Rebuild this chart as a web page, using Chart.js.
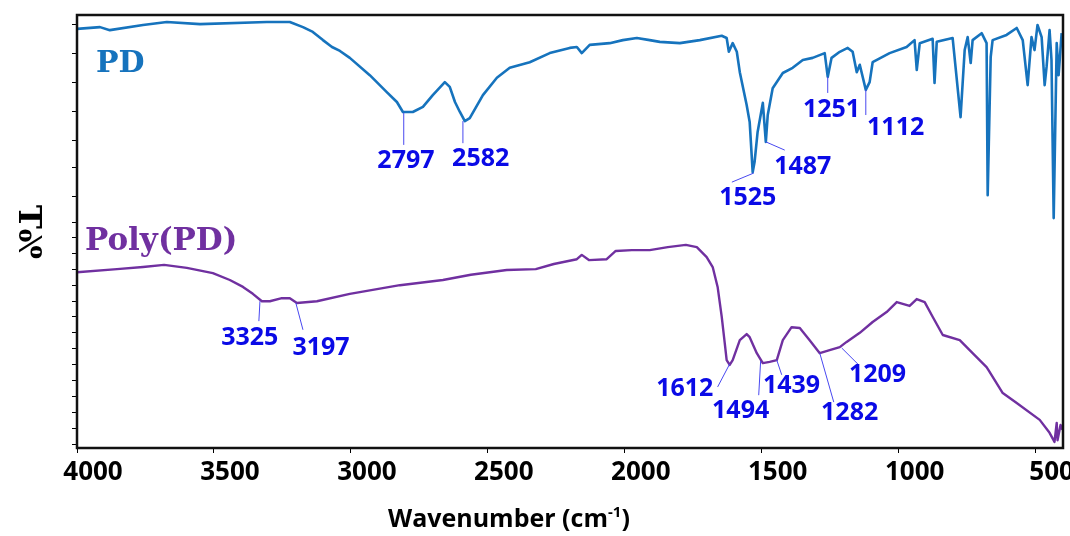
<!DOCTYPE html>
<html>
<head>
<meta charset="utf-8">
<script src="https://cdn.jsdelivr.net/npm/chart.js@4.4.1/dist/chart.umd.min.js"></script>
<style>
  body { margin: 0; background: #fff; }
  #wrap { width: 1070px; height: 536px; position: relative; }
</style>
</head>
<body>
<div id="wrap"><canvas id="ftir" width="1070" height="536"></canvas></div>
<script>
// FTIR spectra, wavenumber (cm-1) vs %T (arbitrary offset units)
const pdWavenumbers = [4000, 3916, 3880, 3759, 3672, 3551, 3307, 3223, 3175, 3139, 3102, 3069, 3040, 3004,
  2931, 2869, 2832, 2810, 2774, 2737, 2701, 2657, 2639, 2620, 2602, 2584, 2566, 2518, 2467, 2420, 2347,
  2274, 2201, 2175, 2157, 2128, 2055, 2007, 1956, 1909, 1872, 1799, 1726, 1646, 1628, 1620, 1606, 1591,
  1580, 1555, 1544, 1533, 1526, 1515, 1496, 1485, 1478, 1460, 1423, 1387, 1350, 1314, 1270, 1259, 1245,
  1215, 1186, 1168, 1153, 1142, 1120, 1106, 1095, 1033, 971, 942, 934, 923, 876, 869, 861, 803, 774, 759,
  748, 737, 730, 697, 679, 675, 664, 657, 606, 569, 547, 529, 515, 504, 493, 478, 467, 460, 449, 442, 434,
  423, 416, 405];
const pdTransmittance = [96.8, 97.2, 96.5, 97.7, 98.4, 97.9, 98.4, 98.4, 97.2, 96.1, 94.2, 92.6, 91.7, 90.1,
  86.1, 82.2, 79.9, 77.6, 77.6, 78.8, 81.5, 84.5, 83.4, 79.9, 77.6, 75.5, 76.2, 81.5, 85.5, 87.8, 89.1,
  91.2, 92.4, 92.6, 91.2, 93.1, 93.5, 94.2, 94.7, 94.2, 93.8, 93.5, 94.2, 95.2, 94.7, 91.5, 93.5, 91.5,
  86.8, 79.2, 75.3, 63.7, 66.1, 73.0, 79.7, 70.7, 76.9, 83.1, 86.6, 87.8, 89.6, 90.1, 91.2, 85.7, 90.1,
  91.5, 92.4, 91.5, 86.8, 88.5, 82.7, 84.5, 89.1, 91.2, 92.6, 94.2, 87.3, 93.5, 94.5, 84.3, 93.8, 94.7,
  76.4, 91.9, 94.9, 88.9, 94.2, 95.8, 93.5, 58.4, 90.3, 94.2, 95.4, 97.0, 94.2, 83.8, 94.9, 91.9, 97.7,
  94.9, 83.8, 88.0, 96.5, 89.6, 53.1, 93.5, 86.1, 95.8];

const polyWavenumbers = [4000, 3854, 3759, 3682, 3599, 3504, 3442, 3394, 3358, 3325, 3296, 3252, 3223, 3197,
  3124, 3004, 2821, 2664, 2562, 2431, 2325, 2259, 2175, 2157, 2131, 2066, 2033, 1974, 1909, 1843, 1777,
  1737, 1701, 1679, 1661, 1646, 1635, 1628, 1617, 1606, 1580, 1555, 1544, 1518, 1496, 1471, 1445, 1423,
  1391, 1361, 1325, 1288, 1252, 1215, 1190, 1142, 1095, 1044, 1007, 960, 934, 905, 876, 839, 777, 730,
  679, 672, 620, 569, 485, 449, 431, 423, 420, 409, 402];
const polyTransmittance = [40.6, 41.3, 41.8, 42.3, 41.6, 40.4, 38.8, 37.2, 35.6, 33.9, 33.9, 34.6, 34.6, 33.5,
  33.9, 35.6, 37.6, 38.8, 40.0, 41.1, 41.3, 42.5, 43.6, 44.6, 43.4, 43.6, 45.5, 45.7, 45.7, 46.4, 46.9,
  46.4, 44.1, 41.8, 37.2, 30.3, 24.2, 20.3, 19.2, 20.3, 24.9, 26.3, 25.6, 21.9, 19.6, 19.9, 20.3, 24.9,
  27.9, 27.7, 24.9, 21.9, 22.6, 23.3, 24.5, 26.6, 29.1, 31.4, 33.7, 32.8, 34.4, 33.7, 30.3, 26.1, 24.9,
  21.9, 18.7, 18.0, 12.7, 10.4, 6.5, 3.5, 1.4, 5.8, 1.8, 5.3, 4.2];

const xTickValues = [4000, 3500, 3000, 2500, 2000, 1500, 1000, 500];
// unlabeled tick marks on the %T axis
const yTickValues = [97.9, 91.2, 84.5, 77.8, 71.1, 64.7, 58.0, 52.0, 48.7, 45.0, 41.3, 37.6, 33.9, 30.3,
  26.6, 22.9, 19.2, 15.5, 11.8, 8.1, 4.4, 0.7];

// peak labels: text, label anchor and leader line, in data units
const pdPeaks = [
  { text: '2797', at: [2799, 66.3], from: [2807, 77.4], to: [2807, 70.0] },
  { text: '2582', at: [2526, 66.7], from: [2591, 75.5], to: [2591, 70.4] },
  { text: '1525', at: [1551, 57.7], from: [1529, 63.5], to: [1609, 61.4] },
  { text: '1487', at: [1350, 64.9], from: [1485, 70.7], to: [1416, 68.8] },
  { text: '1251', at: [1245, 78.1], from: [1259, 85.7], to: [1259, 82.0] },
  { text: '1112', at: [1011, 73.9], from: [1120, 82.7], to: [1120, 76.9] }
];
const polyPeaks = [
  { text: '3325', at: [3369, 25.4], from: [3332, 33.9], to: [3336, 29.3] },
  { text: '3197', at: [3109, 23.1], from: [3201, 33.5], to: [3175, 27.3] },
  { text: '1612', at: [1781, 13.6], from: [1617, 19.4], to: [1661, 14.1] },
  { text: '1494', at: [1577, 8.5], from: [1504, 20.1], to: [1511, 12.2] },
  { text: '1439', at: [1391, 14.3], from: [1445, 20.3], to: [1427, 16.9] },
  { text: '1282', at: [1179, 8.1], from: [1288, 21.9], to: [1237, 10.6] },
  { text: '1209', at: [1077, 16.9], from: [1208, 23.1], to: [1146, 19.2] }
];
const seriesNames = [
  { text: 'PD', at: [3931, 88.7], color: '#1673bd', size: 30 },
  { text: 'Poly(PD)', at: [3971, 47.6], color: '#7030a0', size: 31 }
];

function toPoints(xs, ys) {
  return xs.map((x, i) => ({ x: x, y: ys[i] }));
}

const labelsPlugin = {
  id: 'ftirLabels',
  afterDatasetsDraw(chart) {
    const ctx = chart.ctx;
    const xs = chart.scales.x, ys = chart.scales.y;
    const px = v => xs.getPixelForValue(v);
    const py = v => ys.getPixelForValue(v);
    const area = chart.chartArea;

    ctx.save();
    // leader lines
    ctx.strokeStyle = '#4848f0';
    ctx.lineWidth = 1;
    pdPeaks.concat(polyPeaks).forEach(p => {
      ctx.beginPath();
      ctx.moveTo(px(p.from[0]), py(p.from[1]));
      ctx.lineTo(px(p.to[0]), py(p.to[1]));
      ctx.stroke();
    });
    // peak numbers
    ctx.fillStyle = '#0a0ae6';
    ctx.font = 'bold 25px "Open Sans"';
    ctx.textAlign = 'center';
    ctx.textBaseline = 'middle';
    pdPeaks.concat(polyPeaks).forEach(p => {
      ctx.fillText(p.text, px(p.at[0]), py(p.at[1]));
    });
    // series names
    ctx.textAlign = 'left';
    seriesNames.forEach(s => {
      ctx.font = 'bold ' + s.size + 'px "DejaVu Serif"';
      ctx.fillStyle = s.color;
      ctx.fillText(s.text, px(s.at[0]), py(s.at[1]));
    });

    // frame
    ctx.strokeStyle = '#111';
    ctx.lineWidth = 2.5;
    ctx.strokeRect(area.left, area.top, area.right - area.left, area.bottom - area.top);

    // axis titles
    ctx.fillStyle = '#000';
    ctx.font = 'bold 25px "Open Sans"';
    ctx.textAlign = 'left';
    ctx.textBaseline = 'alphabetic';
    const t1 = 'Wavenumber (cm';
    let tx = 388, ty = 527;
    ctx.fillText(t1, tx, ty);
    tx += ctx.measureText(t1).width;
    ctx.font = 'bold 15px "Open Sans"';
    ctx.fillText('-1', tx, ty - 10);
    tx += ctx.measureText('-1').width;
    ctx.font = 'bold 25px "Open Sans"';
    ctx.fillText(')', tx, ty);

    // %T is drawn mirrored in the original figure
    ctx.translate(27, 232);
    ctx.rotate(-Math.PI / 2);
    ctx.scale(1, -1);
    ctx.font = 'bold 32px "DejaVu Serif"';
    ctx.textAlign = 'center';
    ctx.textBaseline = 'middle';
    ctx.fillText('%T', 0, 0);
    ctx.restore();
  }
};

new Chart(document.getElementById('ftir'), {
  type: 'line',
  data: {
    datasets: [
      {
        label: 'PD',
        data: toPoints(pdWavenumbers, pdTransmittance),
        borderColor: '#1673bd',
        borderWidth: 2.6,
        pointRadius: 0,
        tension: 0,
        borderJoinStyle: 'round'
      },
      {
        label: 'Poly(PD)',
        data: toPoints(polyWavenumbers, polyTransmittance),
        borderColor: '#7030a0',
        borderWidth: 2.4,
        pointRadius: 0,
        tension: 0,
        borderJoinStyle: 'round'
      }
    ]
  },
  options: {
    responsive: false,
    animation: false,
    layout: { padding: { left: 67, right: 7, top: 15, bottom: 0 } },
    plugins: { legend: { display: false }, tooltip: { enabled: false } },
    scales: {
      x: {
        type: 'linear',
        reverse: true,
        min: 400,
        max: 4000,
        afterBuildTicks: axis => { axis.ticks = xTickValues.map(v => ({ value: v })); },
        afterFit: axis => { axis.height = 88; axis.paddingLeft = 0; axis.paddingRight = 0; },
        border: { display: false },
        grid: { drawOnChartArea: false, drawTicks: true, tickLength: 5, color: '#000' },
        ticks: {
          autoSkip: false,
          maxRotation: 0,
          labelOffset: 16,
          padding: 4,
          color: '#000',
          font: { family: 'Open Sans', weight: 'bold', size: 26 },
          callback: v => String(v)
        }
      },
      y: {
        min: 0,
        max: 100,
        afterBuildTicks: axis => { axis.ticks = yTickValues.map(v => ({ value: v })); },
        afterFit: axis => { axis.width = 10; axis.paddingTop = 0; axis.paddingBottom = 0; },
        border: { display: false },
        grid: { drawOnChartArea: false, drawTicks: true, tickLength: 5, color: '#000' },
        ticks: { display: false }
      }
    }
  },
  plugins: [labelsPlugin]
});
</script>
</body>
</html>
